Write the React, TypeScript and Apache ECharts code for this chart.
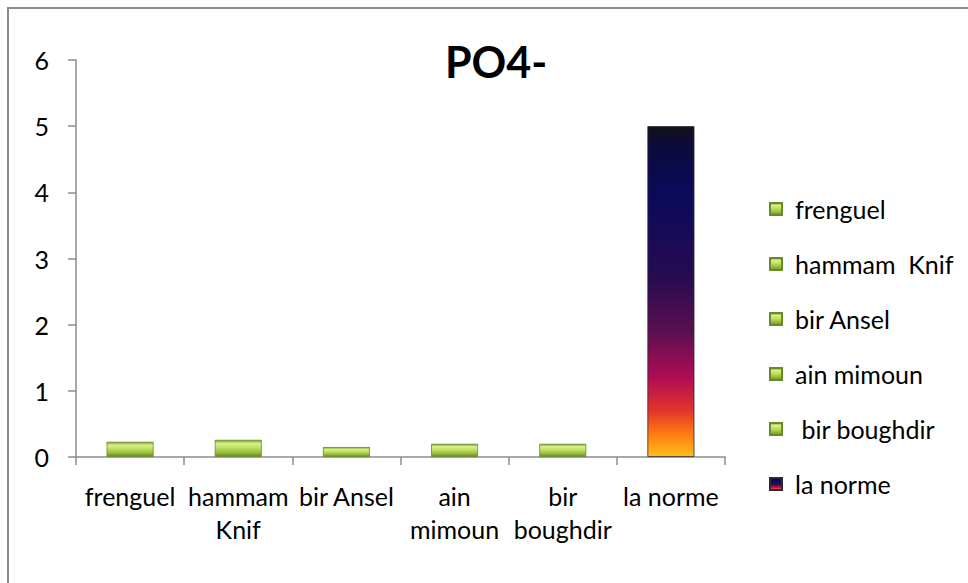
import React, { useEffect, useRef } from "react";
import * as echarts from "echarts";

const categories = ["frenguel", "hammam Knif", "bir Ansel", "ain mimoun", "bir boughdir", "la norme"];
const axisLabels = ["frenguel", "hammam\nKnif", "bir Ansel", "ain\nmimoun", "bir\nboughdir", "la norme"];
const seriesNames = ["frenguel", "hammam  Knif", "bir Ansel", "ain mimoun", " bir boughdir", "la norme"];
const values = [0.23, 0.26, 0.15, 0.2, 0.2, 5];
const yTicks = [0, 1, 2, 3, 4, 5, 6];
const titleText = "PO4-";

const FONT = "Lato, 'Open Sans', sans-serif";

const greenFill = () =>
  new echarts.graphic.LinearGradient(0, 0, 0, 1, [
    { offset: 0, color: "#789832" },
    { offset: 0.2, color: "#d6f288" },
    { offset: 0.45, color: "#bfe062" },
    { offset: 0.75, color: "#97bd3c" },
    { offset: 1, color: "#678626" },
  ]);

const normFill = () =>
  new echarts.graphic.LinearGradient(0, 0, 0, 1, [
    { offset: 0, color: "#121216" },
    { offset: 0.05, color: "#0b0b38" },
    { offset: 0.2, color: "#0a0a5c" },
    { offset: 0.45, color: "#260b50" },
    { offset: 0.62, color: "#5a0f50" },
    { offset: 0.76, color: "#b00c55" },
    { offset: 0.86, color: "#e2332a" },
    { offset: 0.93, color: "#ff7a12" },
    { offset: 1, color: "#ffbd1c" },
  ]);

export default function App() {
  const ref = useRef<HTMLDivElement>(null);
  useEffect(() => {
    if (!ref.current) return;
    const chart = echarts.init(ref.current, undefined, { renderer: "svg" });
    const series = seriesNames.map((name, i) => ({
      name,
      type: "bar",
      stack: "all",
      barWidth: 47,
      data: values.map((v, j) => (j === i ? v : "-")),
      itemStyle: {
        color: i === 5 ? normFill() : greenFill(),
        borderColor: i === 5 ? "#2a2a3a" : "#6a8a28",
        borderWidth: 0.8,
      },
    }));
    chart.setOption({
      animation: false,
      backgroundColor: "#ffffff",
      title: {
        text: titleText,
        left: 440,
        top: 35,
        textStyle: { fontFamily: FONT, fontSize: 43, fontWeight: "bold", color: "#000" },
      },
      graphic: [
        {
          type: "rect",
          shape: { x: 8, y: 8, width: 1200, height: 1200 },
          style: { fill: "none", stroke: "#8c8c8c", lineWidth: 2 },
          silent: true,
        },
      ],
      legend: {
        orient: "vertical",
        left: 764,
        top: 189,
        itemGap: 25,
        itemWidth: 12,
        itemHeight: 12,
        icon: "rect",
        data: seriesNames,
        textStyle: {
          fontFamily: FONT,
          fontSize: 25,
          color: "#000",
          lineHeight: 30,
          padding: [0, 0, 0, 8],
        },
      },
      grid: { left: 76, right: 243, top: 60, bottom: 126, containLabel: false },
      xAxis: {
        type: "category",
        data: categories,
        axisLine: { lineStyle: { color: "#8c8c8c", width: 1.5 } },
        axisTick: { show: true, length: 8, lineStyle: { color: "#8c8c8c", width: 1.5 } },
        axisLabel: {
          formatter: (_v: string, idx: number) => axisLabels[idx],
          fontFamily: FONT,
          fontSize: 25,
          color: "#000",
          lineHeight: 33,
          margin: 22,
          interval: 0,
        },
      },
      yAxis: {
        type: "value",
        min: yTicks[0],
        max: yTicks[yTicks.length - 1],
        interval: 1,
        splitLine: { show: false },
        axisLine: { show: true, lineStyle: { color: "#8c8c8c", width: 1.5 } },
        axisTick: { show: true, length: 8, lineStyle: { color: "#8c8c8c", width: 1.5 } },
        axisLabel: { fontFamily: FONT, fontSize: 25, color: "#000", margin: 27 },
      },
      series,
    });
    return () => chart.dispose();
  }, []);
  return (
    <div
      ref={ref}
      style={{ position: "absolute", left: 0, top: 0, width: 968, height: 583 }}
    />
  );
}
